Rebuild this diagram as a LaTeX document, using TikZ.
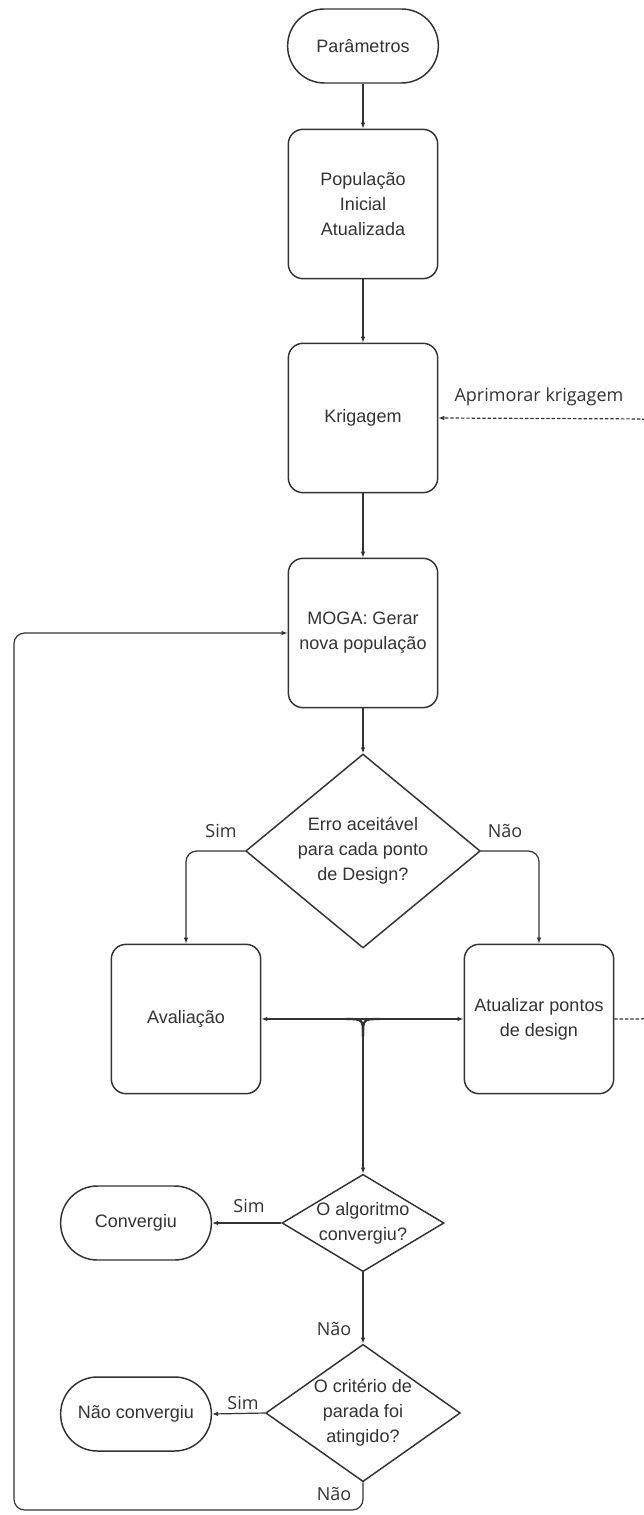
\documentclass[tikz,border=0pt]{standalone}
\usepackage{fontspec}
\setmainfont{Liberation Sans}
\newfontfamily\lblfont{Open Sans}
\usetikzlibrary{shapes.geometric,arrows.meta}
\definecolor{ink}{HTML}{333333}

\begin{document}
\begin{tikzpicture}[x=0.75pt,y=-0.75pt,>={Latex[length=4.5pt,width=3.5pt]}]
  \tikzstyle{TextStyle}=[font=\fontsize{13.5}{18.75}\selectfont,text=ink,align=center]
  \tikzstyle{BoxStyle}=[TextStyle,draw=ink,line width=1.1pt,rectangle,rounded corners=11pt,minimum width=112pt,minimum height=112pt,inner sep=2pt]
  \tikzstyle{TermStyle}=[TextStyle,draw=ink,line width=1.1pt,rectangle,rounded corners=27.5pt,minimum width=113pt,minimum height=55.5pt]
  \tikzstyle{DecStyle}=[draw=ink,line width=1.1pt,diamond,inner sep=0pt]
  \tikzstyle{EdgeStyle}=[draw=ink,line width=0.9pt]
  \tikzstyle{MergeStyle}=[draw=ink,line width=1.7pt]
  \tikzstyle{DashStyle}=[draw=ink,line width=0.9pt,dash pattern=on 2.5pt off 1.5pt]
  \tikzstyle{LabelStyle}=[font=\lblfont\fontsize{13.5}{16}\selectfont,text=ink]

  \useasboundingbox (0,0) rectangle (643,1515);
  \fill[white] (0,0) rectangle (643,1515);

  \node[TermStyle] (par) at (363,46) {Parâmetros};
  \node[BoxStyle] (pop) at (363,204) {População\\Inicial\\Atualizada};
  \node[BoxStyle] (krig) at (363,418) {Krigagem};
  \node[BoxStyle] (moga) at (363,633) {MOGA: Gerar\\nova população};
  \node[DecStyle,minimum width=176pt,minimum height=145.5pt,
    label={[TextStyle]center:Erro aceitável\\para cada ponto\\de Design?}] (d1) at (363,851) {};
  \node[BoxStyle] (aval) at (186,1019) {Avaliação};
  \node[BoxStyle] (atua) at (539,1019) {Atualizar pontos\\de design};
  \node[DecStyle,minimum width=121.5pt,minimum height=73pt,
    label={[TextStyle]center:O algoritmo\\convergiu?}] (d2) at (363,1223) {};
  \node[TermStyle] (conv) at (136,1223) {Convergiu};
  \node[DecStyle,minimum width=146pt,minimum height=103pt,
    label={[TextStyle]center:O critério de\\parada foi\\atingido?}] (d3) at (363,1413) {};
  \node[TermStyle] (nconv) at (136,1414) {Não convergiu};

  \draw[EdgeStyle,->] (par) -- (pop);
  \draw[EdgeStyle,->] (pop) -- (krig);
  \draw[EdgeStyle,->] (krig) -- (moga);
  \draw[EdgeStyle,->] (moga) -- (d1);
  \draw[EdgeStyle,->,rounded corners=8pt] (d1.west) -| (aval.north);
  \draw[EdgeStyle,->,rounded corners=8pt] (d1.east) -| (atua.north);
  \node[LabelStyle] (lsim1) at (221,831) {Sim};
  \node[LabelStyle] (lnao1) at (505,831) {Não};

  \draw[MergeStyle,<->] (aval.east) -- (atua.west);
  \coordinate (jn) at (363,1019);
  \draw[MergeStyle] ([xshift=-13pt]jn) .. controls (jn) .. ([yshift=-13pt]jn);
  \draw[MergeStyle] ([xshift=13pt]jn) .. controls (jn) .. ([yshift=-13pt]jn);
  \draw[MergeStyle,->] ([yshift=-13pt]jn) -- (d2.north);

  \draw[EdgeStyle,->] (d2.west) -- (conv.east);
  \node[LabelStyle] (lsim2) at (249,1206) {Sim};
  \draw[EdgeStyle,->] (d2.south) -- (d3.north);
  \node[LabelStyle] (lnao2) at (334,1329) {Não};
  \draw[EdgeStyle,->] (d3.west) -- (nconv.east);
  \node[LabelStyle] (lsim3) at (243,1403) {Sim};

  \coordinate (lp) at (14,1510);
  \draw[EdgeStyle,->,rounded corners=8pt] (d3.south) |- (lp) |- (moga.west);
  \node[LabelStyle] (lnao3) at (334,1494) {Não};

  \coordinate (rt) at (652,419);
  \draw[DashStyle,->,rounded corners=8pt] (atua.east) -| (rt) -- (krig.east);
  \node[LabelStyle] (lapr) at (539,397) {Aprimorar krigagem};
\end{tikzpicture}
\end{document}
